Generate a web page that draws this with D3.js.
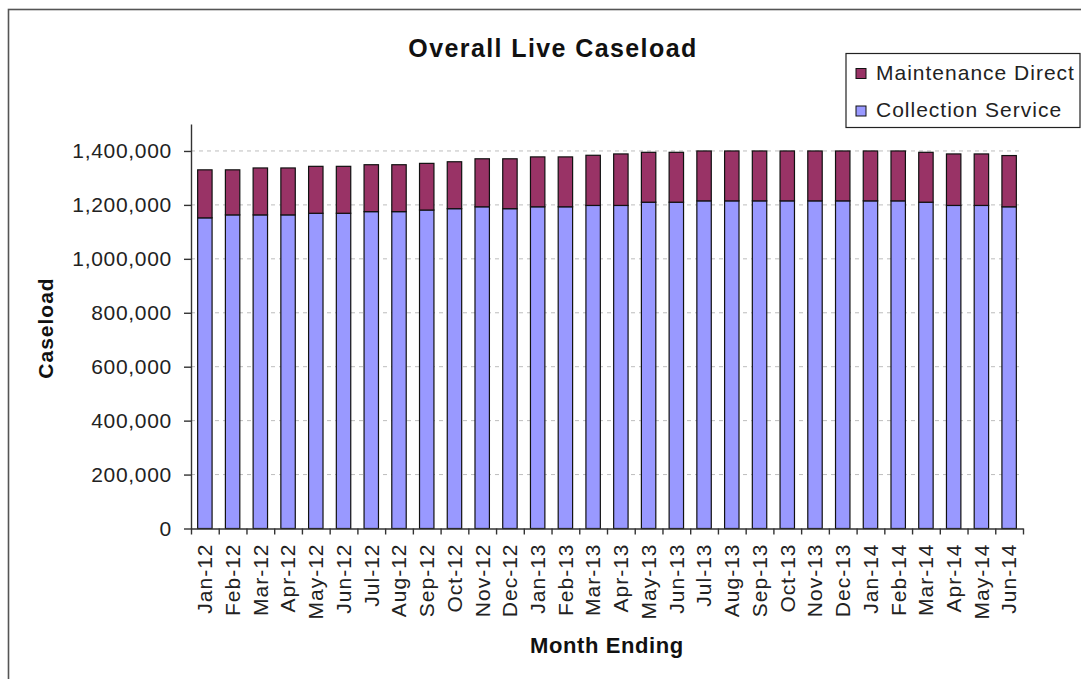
<!DOCTYPE html>
<html lang="en">
<head>
    <meta charset="UTF-8">
    <title>Overall Live Caseload</title>
    <style>
        html, body {
            margin: 0;
            padding: 0;
            background-color: #fff;
            font-family: 'Liberation Sans', Arial, sans-serif;
            color: #222;
        }
        svg { display: block; }
        .tick text { fill: #222; }
    </style>
</head>
<body>
    <div id="chart"></div>
    <script src="https://d3js.org/d3.v7.min.js"></script>
    <script>
        const width = 1081;
        const height = 679;
        const margin = {top: 124, left: 191, bottom: 150.5, right: 58};

        // DATA
        const months = [
            "Jan-12", "Feb-12", "Mar-12", "Apr-12", "May-12", "Jun-12", "Jul-12", "Aug-12", "Sep-12", "Oct-12",
            "Nov-12", "Dec-12", "Jan-13", "Feb-13", "Mar-13", "Apr-13", "May-13", "Jun-13", "Jul-13", "Aug-13",
            "Sep-13", "Oct-13", "Nov-13", "Dec-13", "Jan-14", "Feb-14", "Mar-14", "Apr-14", "May-14", "Jun-14"
        ];
        const collectionService = [
            1152000, 1163000, 1163000, 1163000, 1169000, 1169000, 1175000, 1175000, 1181000, 1186000,
            1193000, 1186000, 1193000, 1193000, 1198000, 1198000, 1210000, 1210000, 1215000, 1215000,
            1215000, 1215000, 1215000, 1215000, 1215000, 1215000, 1210000, 1198000, 1198000, 1193000
        ];
        const maintenanceDirect = [
            178000, 167000, 174000, 174000, 174000, 174000, 174000, 174000, 173000, 174000,
            178000, 185000, 185000, 185000, 186000, 191000, 185000, 185000, 185000, 185000,
            185000, 185000, 185000, 185000, 185000, 185000, 185000, 191000, 191000, 190000
        ];
        const yTicks = [0, 200000, 400000, 600000, 800000, 1000000, 1200000, 1400000];
        const seriesNames = ["Collection Service", "Maintenance Direct"];
        const colours = ["#9999FF", "#993366"];

        const table = months.map((m, i) => ({
            month: m,
            "Collection Service": collectionService[i],
            "Maintenance Direct": maintenanceDirect[i]
        }));

        const svg = d3.select("#chart")
            .append("svg")
            .attr("width", width)
            .attr("height", height);

        // OUTER FRAME
        svg.append("rect")
            .attr("x", 8.5)
            .attr("y", 9.5)
            .attr("width", 1200)
            .attr("height", 800)
            .attr("fill", "none")
            .attr("stroke", "#555")
            .attr("stroke-width", 1.6);

        const x0 = margin.left;
        const x1 = width - margin.right;
        const yBottom = height - margin.bottom;

        // SCALES
        const x = d3.scaleBand()
            .domain(months)
            .range([x0, x1])
            .paddingInner(0.48)
            .paddingOuter(0.24);
        const xEdge = d3.scaleLinear()
            .domain([0, months.length])
            .range([x0, x1]);
        const y = d3.scaleLinear()
            .domain([0, 1500000])
            .range([yBottom, margin.top]);

        // GRIDLINES
        svg.append("g")
            .selectAll("line")
            .data(yTicks.filter(d => d > 0))
            .enter()
            .append("line")
            .attr("x1", x0)
            .attr("x2", x1)
            .attr("y1", d => y(d))
            .attr("y2", d => y(d))
            .attr("stroke", "#bdbdbd")
            .attr("stroke-width", 1)
            .attr("stroke-dasharray", "4,4");

        // BARS
        const stacked = d3.stack().keys(seriesNames)(table);
        svg.append("g")
            .selectAll("g")
            .data(stacked)
            .enter()
            .append("g")
            .attr("fill", (d, i) => colours[i])
            .selectAll("rect")
            .data(d => d)
            .enter()
            .append("rect")
            .attr("x", d => x(d.data.month))
            .attr("width", x.bandwidth())
            .attr("y", d => y(d[1]))
            .attr("height", d => y(d[0]) - y(d[1]))
            .attr("stroke", "#111")
            .attr("stroke-width", 1.2);

        // Y AXIS
        const yAxis = svg.append("g")
            .attr("transform", `translate(${x0}, 0)`)
            .call(d3.axisLeft(y)
                .tickValues(yTicks)
                .tickSize(7)
                .tickSizeOuter(0)
                .tickPadding(12)
                .tickFormat(d3.format(",")));
        yAxis.selectAll("text")
            .style("font-family", "'Liberation Sans', Arial, sans-serif")
            .style("font-size", "21px")
            .style("letter-spacing", "0.7px");
        yAxis.selectAll("path, line").attr("stroke", "#333").attr("stroke-width", 1.4);

        // X AXIS (ticks between categories)
        const xTicks = svg.append("g")
            .attr("transform", `translate(0, ${yBottom})`)
            .call(d3.axisBottom(xEdge)
                .tickValues(d3.range(0, months.length + 1))
                .tickSize(6)
                .tickSizeOuter(0)
                .tickFormat(""));
        xTicks.selectAll("path, line").attr("stroke", "#333").attr("stroke-width", 1.4);

        // X LABELS
        const xLabels = svg.append("g")
            .attr("transform", `translate(0, ${yBottom})`)
            .call(d3.axisBottom(x).tickSize(0));
        xLabels.select(".domain").remove();
        xLabels.selectAll("text")
            .attr("transform", "rotate(-90)")
            .attr("x", -15)
            .attr("y", 0)
            .attr("dy", "0.35em")
            .attr("text-anchor", "end")
            .style("font-family", "'Liberation Sans', Arial, sans-serif")
            .style("font-size", "21px")
            .style("letter-spacing", "1px");

        // TITLE
        svg.append("text")
            .attr("x", 553)
            .attr("y", 57)
            .attr("text-anchor", "middle")
            .style("font-size", "25px")
            .style("font-weight", "bold")
            .style("letter-spacing", "1.4px")
            .attr("fill", "#111")
            .text("Overall Live Caseload");

        // AXIS TITLES
        svg.append("text")
            .attr("transform", "translate(53, 328) rotate(-90)")
            .attr("text-anchor", "middle")
            .style("font-size", "21px")
            .style("font-weight", "bold")
            .style("letter-spacing", "1px")
            .attr("fill", "#111")
            .text("Caseload");

        svg.append("text")
            .attr("x", (x0 + x1) / 2)
            .attr("y", 653)
            .attr("text-anchor", "middle")
            .style("font-size", "22px")
            .style("font-weight", "bold")
            .style("letter-spacing", "0.6px")
            .attr("fill", "#111")
            .text("Month Ending");

        // LEGEND
        const legend = svg.append("g");
        legend.append("rect")
            .attr("x", 846)
            .attr("y", 53.5)
            .attr("width", 234)
            .attr("height", 74)
            .attr("fill", "#fff")
            .attr("stroke", "#222")
            .attr("stroke-width", 1.2);

        const legendItems = [
            {name: "Maintenance Direct", colour: colours[1]},
            {name: "Collection Service", colour: colours[0]}
        ];
        const entry = legend.selectAll("g.entry")
            .data(legendItems)
            .enter()
            .append("g")
            .attr("class", "entry")
            .attr("transform", (d, i) => `translate(856, ${68.5 + i * 37.5})`);
        entry.append("rect")
            .attr("width", 10)
            .attr("height", 10)
            .attr("fill", d => d.colour)
            .attr("stroke", "#111")
            .attr("stroke-width", 1);
        entry.append("text")
            .attr("x", 20)
            .attr("y", 11)
            .style("font-size", "21px")
            .style("letter-spacing", "1px")
            .attr("fill", "#222")
            .text(d => d.name);
    </script>
</body>
</html>
